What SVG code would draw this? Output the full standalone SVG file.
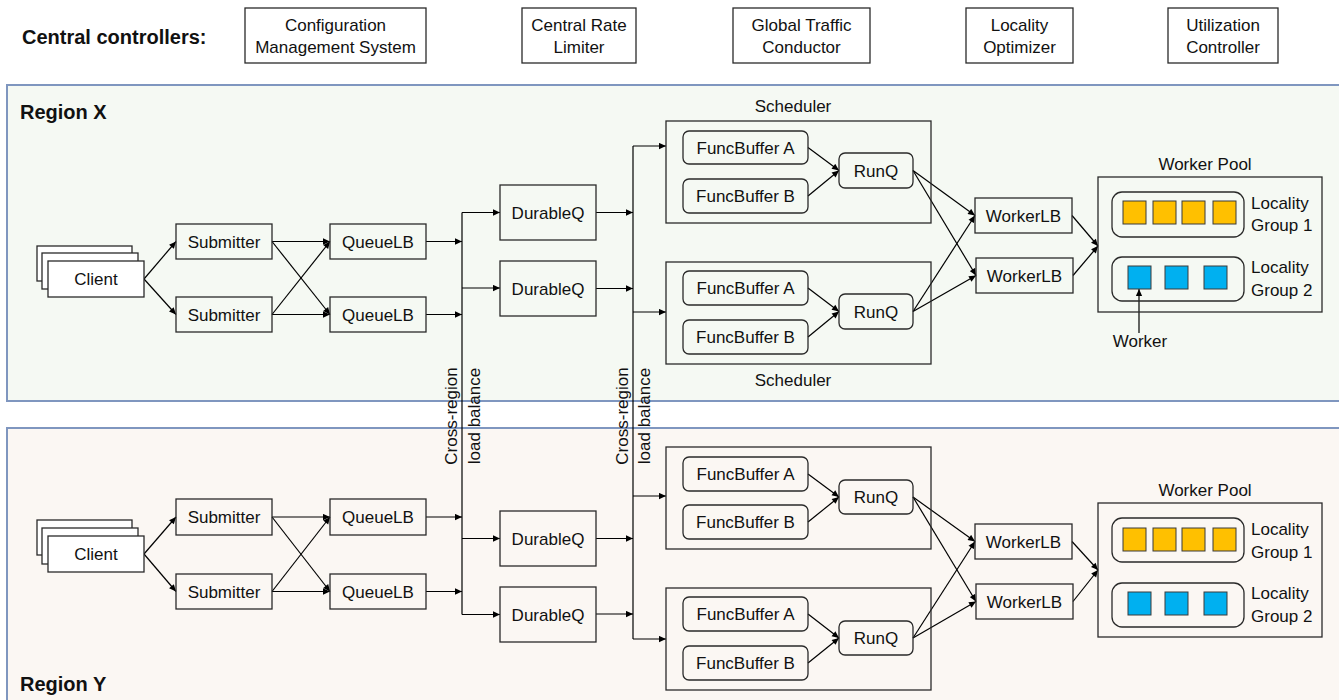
<svg xmlns="http://www.w3.org/2000/svg" width="1339" height="700" viewBox="0 0 1339 700">
<style>
.t{font-family:"Liberation Sans",Arial,sans-serif;font-size:17px;fill:#111;text-anchor:middle}
.s{text-anchor:start}
.h{font-weight:bold;font-size:20px;text-anchor:start}
.box{fill:none;stroke:#2a2a2a;stroke-width:1.3}
.wbox{fill:#fff;stroke:#2a2a2a;stroke-width:1.3}
.rb{fill:none;stroke:#2a2a2a;stroke-width:1.3}
.c{fill:none;stroke:#000;stroke-width:1.2}
.a{marker-end:url(#ah)}
.y{fill:#FFC000;stroke:#3a3a3a;stroke-width:1}
.bl{fill:#00B0F0;stroke:#3a3a3a;stroke-width:1}
.reg{stroke:#7F96BF;stroke-width:2}
</style>
<defs>
<marker id="ah" viewBox="0 0 10 10" refX="10" refY="5" markerWidth="8" markerHeight="7" markerUnits="userSpaceOnUse" orient="auto"><path d="M0,0.5 L10,5 L0,9.5 z" fill="#000"/></marker>
</defs>
<rect width="1339" height="700" fill="#fff"/>
<g id="regions">
<rect class="reg" x="7" y="85" width="1345" height="316" fill="#F5F9F3"/>
<rect class="reg" x="7" y="428" width="1345" height="290" fill="#FBF7F3"/>
<text class="t h" x="20" y="119">Region X</text>
<text class="t h" x="20" y="691">Region Y</text>
</g>
<g id="header">
<text class="t h" x="22" y="44">Central controllers:</text>
<g id="cms"><rect class="wbox" x="245" y="8" width="181" height="55"/><text class="t" x="335.5" y="31">Configuration</text><text class="t" x="335.5" y="53">Management System</text></g>
<g id="crl"><rect class="wbox" x="522" y="8" width="114" height="55"/><text class="t" x="579" y="31">Central Rate</text><text class="t" x="579" y="53">Limiter</text></g>
<g id="gtc"><rect class="wbox" x="733" y="8" width="137" height="55"/><text class="t" x="801.5" y="31">Global Traffic</text><text class="t" x="801.5" y="53">Conductor</text></g>
<g id="lo"><rect class="wbox" x="966" y="8" width="107" height="55"/><text class="t" x="1019.5" y="31">Locality</text><text class="t" x="1019.5" y="53">Optimizer</text></g>
<g id="uc"><rect class="wbox" x="1168" y="8" width="110" height="55"/><text class="t" x="1223" y="31">Utilization</text><text class="t" x="1223" y="53">Controller</text></g>
</g>
<g id="connectors">
<path class="c a" d="M144,279 L176,241.5"/>
<path class="c a" d="M144,279 L176,314.5"/>
<path class="c a" d="M272,241.5 L330,241.5"/>
<path class="c a" d="M272,241.5 L330,314.5"/>
<path class="c a" d="M272,314.5 L330,241.5"/>
<path class="c a" d="M272,314.5 L330,314.5"/>
<path class="c a" d="M426,241.5 L462,241.5"/>
<path class="c a" d="M426,314.5 L462,314.5"/>
<path class="c a" d="M144,554 L176,517"/>
<path class="c a" d="M144,554 L176,591.5"/>
<path class="c a" d="M272,517 L330,517"/>
<path class="c a" d="M272,517 L330,591.5"/>
<path class="c a" d="M272,591.5 L330,517"/>
<path class="c a" d="M272,591.5 L330,591.5"/>
<path class="c a" d="M426,517 L462,517"/>
<path class="c a" d="M426,591.5 L462,591.5"/>
<path class="c" d="M462,212.5 V614.5"/>
<path class="c a" d="M462,212.5 H500"/>
<path class="c a" d="M462,288 H500"/>
<path class="c a" d="M462,538.5 H500"/>
<path class="c a" d="M462,614.5 H500"/>
<path class="c a" d="M596,212.5 H633"/>
<path class="c a" d="M596,288.5 H633"/>
<path class="c a" d="M596,538.5 H633"/>
<path class="c a" d="M596,614 H633"/>
<path class="c" d="M633,146 V639"/>
<path class="c a" d="M633,146 H666"/>
<path class="c a" d="M633,312 H666"/>
<path class="c a" d="M633,496 H666"/>
<path class="c a" d="M633,639 H666"/>
<path class="c a" d="M808,147.5 L839,170.5"/>
<path class="c a" d="M808,196 L839,170.5"/>
<path class="c a" d="M808,288 L839,311.5"/>
<path class="c a" d="M808,337 L839,311.5"/>
<path class="c a" d="M808,474 L839,497"/>
<path class="c a" d="M808,522 L839,497"/>
<path class="c a" d="M808,614 L839,638"/>
<path class="c a" d="M808,663 L839,638"/>
<path class="c a" d="M913,170.5 L975,215.5"/>
<path class="c a" d="M913,170.5 L976,275.5"/>
<path class="c a" d="M913,311.5 L975,215.5"/>
<path class="c a" d="M913,311.5 L976,275.5"/>
<path class="c a" d="M913,497 L975,541.5"/>
<path class="c a" d="M913,497 L976,601.5"/>
<path class="c a" d="M913,638 L975,541.5"/>
<path class="c a" d="M913,638 L976,601.5"/>
<path class="c a" d="M1072,215.5 L1098,246"/>
<path class="c a" d="M1073,275.5 L1098,246"/>
<path class="c a" d="M1072,541.5 L1098,570"/>
<path class="c a" d="M1073,601.5 L1098,570"/>
<path class="c a" d="M1139,333 L1139,289"/>
</g>
<g id="bus-labels">
<text class="t" transform="translate(457,416) rotate(-90)">Cross-region</text>
<text class="t" transform="translate(480,416) rotate(-90)">load balance</text>
<text class="t" transform="translate(628,416) rotate(-90)">Cross-region</text>
<text class="t" transform="translate(650,416) rotate(-90)">load balance</text>
</g>
<g id="client-x"><rect class="wbox" x="37" y="246" width="95" height="35"/><rect class="wbox" x="42" y="253" width="96" height="36"/><rect class="wbox" x="48" y="261" width="96" height="36"/><text class="t" x="96" y="285">Client</text></g>
<g id="submitter-x1"><rect class="box" x="176" y="224" width="96" height="35"/><text class="t" x="224" y="247.5">Submitter</text></g>
<g id="submitter-x2"><rect class="box" x="176" y="297" width="96" height="35"/><text class="t" x="224" y="320.5">Submitter</text></g>
<g id="queuelb-x1"><rect class="box" x="330" y="224" width="96" height="35"/><text class="t" x="378" y="247.5">QueueLB</text></g>
<g id="queuelb-x2"><rect class="box" x="330" y="297" width="96" height="35"/><text class="t" x="378" y="320.5">QueueLB</text></g>
<g id="durableq-x1"><rect class="box" x="500" y="185" width="96" height="55"/><text class="t" x="548" y="218.5">DurableQ</text></g>
<g id="durableq-x2"><rect class="box" x="500" y="261" width="96" height="55"/><text class="t" x="548" y="294.5">DurableQ</text></g>
<g id="scheduler-x1"><text class="t" x="793" y="112">Scheduler</text><rect class="box" x="666" y="121" width="265" height="102"/>
<rect class="rb" x="683" y="131" width="125" height="33" rx="6"/><text class="t" x="745.5" y="153.5">FuncBuffer A</text>
<rect class="rb" x="683" y="179" width="125" height="34" rx="6"/><text class="t" x="745.5" y="202">FuncBuffer B</text>
<rect class="rb" x="839" y="153" width="74" height="35" rx="6"/><text class="t" x="876" y="176.5">RunQ</text></g>
<g id="scheduler-x2"><rect class="box" x="666" y="262" width="265" height="102"/><text class="t" x="793" y="386">Scheduler</text>
<rect class="rb" x="683" y="271" width="125" height="34" rx="6"/><text class="t" x="745.5" y="294">FuncBuffer A</text>
<rect class="rb" x="683" y="320" width="125" height="34" rx="6"/><text class="t" x="745.5" y="343">FuncBuffer B</text>
<rect class="rb" x="839" y="294" width="74" height="35" rx="6"/><text class="t" x="876" y="317.5">RunQ</text></g>
<g id="workerlb-x1"><rect class="box" x="975" y="198" width="97" height="35"/><text class="t" x="1023.5" y="221.5">WorkerLB</text></g>
<g id="workerlb-x2"><rect class="box" x="976" y="258" width="97" height="35"/><text class="t" x="1024.5" y="281.5">WorkerLB</text></g>
<g id="pool-x"><text class="t" x="1205" y="170">Worker Pool</text><rect class="box" x="1098" y="177" width="224" height="135"/>
<rect class="rb" x="1112" y="192" width="132" height="45" rx="10"/>
<rect class="y" x="1123" y="201" width="23" height="23"/><rect class="y" x="1153" y="201" width="23" height="23"/><rect class="y" x="1182" y="201" width="23" height="23"/><rect class="y" x="1213" y="201" width="23" height="23"/>
<text class="t s" x="1251" y="209">Locality</text><text class="t s" x="1251" y="231">Group 1</text>
<rect class="rb" x="1112" y="257" width="132" height="44" rx="10"/>
<rect class="bl" x="1128" y="266" width="23" height="23"/><rect class="bl" x="1165" y="266" width="23" height="23"/><rect class="bl" x="1204" y="266" width="23" height="23"/>
<text class="t s" x="1251" y="273">Locality</text><text class="t s" x="1251" y="296">Group 2</text>
<text class="t" x="1140" y="347">Worker</text></g>
<g id="client-y"><rect class="wbox" x="37" y="520" width="95" height="35"/><rect class="wbox" x="42" y="528" width="96" height="36"/><rect class="wbox" x="48" y="536" width="96" height="36"/><text class="t" x="96" y="560">Client</text></g>
<g id="submitter-y1"><rect class="box" x="176" y="499" width="96" height="36"/><text class="t" x="224" y="523">Submitter</text></g>
<g id="submitter-y2"><rect class="box" x="176" y="574" width="96" height="35"/><text class="t" x="224" y="597.5">Submitter</text></g>
<g id="queuelb-y1"><rect class="box" x="330" y="499" width="96" height="36"/><text class="t" x="378" y="523">QueueLB</text></g>
<g id="queuelb-y2"><rect class="box" x="330" y="574" width="96" height="35"/><text class="t" x="378" y="597.5">QueueLB</text></g>
<g id="durableq-y1"><rect class="box" x="500" y="511" width="96" height="55"/><text class="t" x="548" y="544.5">DurableQ</text></g>
<g id="durableq-y2"><rect class="box" x="500" y="587" width="96" height="55"/><text class="t" x="548" y="620.5">DurableQ</text></g>
<g id="scheduler-y1"><rect class="box" x="666" y="447" width="265" height="102"/>
<rect class="rb" x="683" y="457" width="125" height="34" rx="6"/><text class="t" x="745.5" y="480">FuncBuffer A</text>
<rect class="rb" x="683" y="505" width="125" height="34" rx="6"/><text class="t" x="745.5" y="528">FuncBuffer B</text>
<rect class="rb" x="839" y="480" width="74" height="34" rx="6"/><text class="t" x="876" y="503">RunQ</text></g>
<g id="scheduler-y2"><rect class="box" x="666" y="588" width="265" height="102"/>
<rect class="rb" x="683" y="597" width="125" height="34" rx="6"/><text class="t" x="745.5" y="620">FuncBuffer A</text>
<rect class="rb" x="683" y="646" width="125" height="34" rx="6"/><text class="t" x="745.5" y="669">FuncBuffer B</text>
<rect class="rb" x="839" y="621" width="74" height="34" rx="6"/><text class="t" x="876" y="644">RunQ</text></g>
<g id="workerlb-y1"><rect class="box" x="975" y="524" width="97" height="35"/><text class="t" x="1023.5" y="547.5">WorkerLB</text></g>
<g id="workerlb-y2"><rect class="box" x="976" y="584" width="97" height="35"/><text class="t" x="1024.5" y="607.5">WorkerLB</text></g>
<g id="pool-y"><text class="t" x="1205" y="496">Worker Pool</text><rect class="box" x="1098" y="503" width="224" height="134"/>
<rect class="rb" x="1112" y="518" width="132" height="44" rx="10"/>
<rect class="y" x="1123" y="528" width="23" height="23"/><rect class="y" x="1153" y="528" width="23" height="23"/><rect class="y" x="1182" y="528" width="23" height="23"/><rect class="y" x="1213" y="528" width="23" height="23"/>
<text class="t s" x="1251" y="535">Locality</text><text class="t s" x="1251" y="558">Group 1</text>
<rect class="rb" x="1112" y="583" width="132" height="44" rx="10"/>
<rect class="bl" x="1128" y="592" width="23" height="23"/><rect class="bl" x="1165" y="592" width="23" height="23"/><rect class="bl" x="1204" y="592" width="23" height="23"/>
<text class="t s" x="1251" y="599">Locality</text><text class="t s" x="1251" y="622">Group 2</text></g>
</svg>
